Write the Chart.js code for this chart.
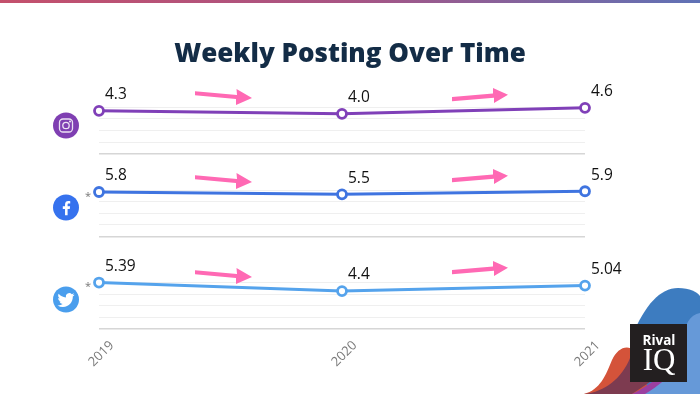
<!DOCTYPE html>
<html>
<head>
<meta charset="utf-8">
<title>Weekly Posting Over Time</title>
<script src="https://cdn.jsdelivr.net/npm/chart.js@4"></script>
<style>
  html, body { margin: 0; padding: 0; background: #fff; overflow: hidden; }
  #page { position: relative; width: 700px; height: 394px; }
  #page canvas, #page svg { position: absolute; left: 0; top: 0; }
</style>
</head>
<body>
<div id="page">
  <canvas id="postingChart" width="700" height="394"></canvas>
  <svg width="700" height="394" viewBox="0 0 700 394">
    <defs>
      <linearGradient id="topBar"><stop offset="0" stop-color="#c4506c"/><stop offset="0.5" stop-color="#a85484"/><stop offset="1" stop-color="#5f72b6"/></linearGradient>
      <g id="arrowDown"><path d="M195 91.200 L237 95 L236.500 89 L252 98 L236 105 L236 99 L195 95.300 Z"/></g>
      <g id="arrowUp"><path d="M452 97 L493 93.500 L493 88 L508 94.700 L494 103 L494 97.700 L452 101.300 Z"/></g>
    </defs>
    <rect width="700" height="3" fill="url(#topBar)"/>

    <text x="350" y="62" font-family="Open Sans" font-weight="800" font-size="26" fill="#132c46" text-anchor="middle">Weekly Posting Over Time</text>

    <g fill="#ff69b4">
      <use href="#arrowDown"/><use href="#arrowUp"/>
      <use href="#arrowDown" y="84"/><use href="#arrowUp" y="81"/>
      <use href="#arrowDown" y="179"/><use href="#arrowUp" y="173"/>
    </g>

    <!-- platform icons -->
    <circle cx="66" cy="125.500" r="13" fill="#7f3fb2"/>
    <g fill="none" stroke="#fff" stroke-opacity="0.85" stroke-width="1.3">
      <rect x="59.500" y="119" width="13" height="13" rx="3.500"/>
      <circle cx="66" cy="125.500" r="3.200"/>
    </g>
    <circle cx="70" cy="121.500" r="0.900" fill="#fff"/>

    <circle cx="66" cy="207.500" r="13" fill="#3672ee"/>
    <path transform="translate(56.400 197.700) scale(0.8)" fill="#fff" d="M14 22v-8h2.700l.4-3.200H14V8.800c0-.9.3-1.600 1.600-1.600h1.700V4.300c-.3 0-1.300-.1-2.400-.1-2.400 0-4.100 1.500-4.100 4.200v2.400H8V14h2.800v8z"/>

    <circle cx="66" cy="299.500" r="13" fill="#4a9eed"/>
    <path transform="translate(57.500 291.500) scale(0.71)" fill="#fff" d="M23.953 4.570a10 10 0 01-2.825.775 4.958 4.958 0 002.163-2.723c-.951.555-2.005.959-3.127 1.184a4.920 4.920 0 00-8.384 4.482C7.690 8.095 4.067 6.130 1.640 3.162a4.822 4.822 0 00-.666 2.475c0 1.710.870 3.213 2.188 4.096a4.904 4.904 0 01-2.228-.616v.060a4.923 4.923 0 003.946 4.827 4.996 4.996 0 01-2.212.085 4.936 4.936 0 004.604 3.417 9.867 9.867 0 01-6.102 2.105c-.390 0-.779-.023-1.170-.067a13.995 13.995 0 007.557 2.209c9.053 0 13.998-7.496 13.998-13.985 0-.210 0-.420-.015-.630A9.935 9.935 0 0024 4.590z"/>

    <g font-family="Open Sans" font-size="11" fill="#777" text-anchor="middle">
      <text x="88" y="200">*</text>
      <text x="88" y="290">*</text>
    </g>

    <!-- logo hills -->
    <path d="M632 336 C645 305 660 288 678 288 C690 288 697 292 700 296 L700 394 L632 394 Z" fill="#3d7cc0"/>
    <path d="M584 394 C600 390 606 375 612 360 C617 349 626 344 634 350 L650 394 Z" fill="#d4533a"/>
    <path d="M584 394 C605 392 622 378 630 358 L650 382 L632 394 Z" fill="#7d3b50"/>
    <path d="M632 394 C640 390 650 384 660 376 L670 394 Z" fill="#9b3fa0"/>
    <path d="M700 313 C690 315 684 324 684 340 C684 360 672 378 645 394 L700 394 Z" fill="#6699d8"/>
    <rect x="630" y="324" width="57" height="58" fill="#231f20"/>
    <text x="659" y="344.500" font-family="Open Sans" font-weight="700" font-size="13.500" fill="#fff" text-anchor="middle">Rival</text>
    <text x="659" y="370" font-family="Liberation Serif" font-size="31" fill="#fff" text-anchor="middle">IQ</text>
  </svg>
</div>

<script>
const years = ['2019', '2020', '2021'];

const instagramPosts = [4.3, 4.0, 4.6];
const facebookPosts = [5.8, 5.5, 5.9];
const twitterPosts = [5.39, 4.4, 5.04];

const instagramLabels = ['4.3', '4.0', '4.6'];
const facebookLabels = ['5.8', '5.5', '5.9'];
const twitterLabels = ['5.39', '4.4', '5.04'];

function lineSet(data, valueLabels, color, axis) {
  return {
    data,
    valueLabels,
    yAxisID: axis,
    borderColor: color,
    borderWidth: 3,
    pointRadius: 4.5,
    pointBorderWidth: 2.8,
    pointBackgroundColor: '#fff',
    pointBorderColor: color,
    tension: 0,
    clip: false
  };
}

function valueAxis(max, step, weight) {
  return {
    type: 'linear',
    stack: 'platforms',
    stackWeight: weight,
    min: 0,
    max,
    ticks: { display: false, stepSize: step },
    border: { display: false },
    grid: {
      drawTicks: false,
      lineWidth: (ctx) => (ctx.tick.value === 0 ? 1.5 : 1),
      color: (ctx) => (ctx.tick.value === 0 ? '#d6d6d6' : '#efefef')
    }
  };
}

function gapAxis(weight) {
  return {
    type: 'linear',
    stack: 'platforms',
    stackWeight: weight,
    ticks: { display: false },
    border: { display: false },
    grid: { display: false }
  };
}

const valueLabelPlugin = {
  id: 'valueLabels',
  afterDatasetsDraw(chart) {
    const { ctx } = chart;
    ctx.save();
    ctx.font = '15.5px "Open Sans"';
    ctx.fillStyle = '#111';
    ctx.textAlign = 'left';
    ctx.textBaseline = 'middle';
    chart.data.datasets.forEach((set, i) => {
      chart.getDatasetMeta(i).data.forEach((pt, j) => {
        ctx.fillText(set.valueLabels[j], pt.x + 6, pt.y - 16);
      });
    });
    ctx.restore();
  }
};

new Chart(document.querySelector('#postingChart'), {
  type: 'line',
  data: {
    labels: years,
    datasets: [
      lineSet(instagramPosts, instagramLabels, '#8040b8', 'yInstagram'),
      lineSet(facebookPosts, facebookLabels, '#3f74e0', 'yFacebook'),
      lineSet(twitterPosts, twitterLabels, '#55a3ec', 'yTwitter')
    ]
  },
  options: {
    responsive: false,
    animation: false,
    layout: { padding: { left: 91, right: 115, top: 107, bottom: 23 } },
    scales: {
      x: {
        offset: false,
        grid: { display: false },
        border: { display: false },
        ticks: {
          color: '#7a7a7a',
          font: { family: 'Open Sans', size: 13 },
          maxRotation: 45,
          minRotation: 45,
          padding: 1,
          labelOffset: 13
        }
      },
      yTwitter: valueAxis(5.4, 1.35, 46.5),
      yGapLower: gapAxis(46),
      yFacebook: valueAxis(6, 1.5, 46),
      yGapUpper: gapAxis(36.5),
      yInstagram: valueAxis(4.68, 1.17, 47)
    },
    plugins: {
      legend: { display: false },
      tooltip: { enabled: false }
    }
  },
  plugins: [valueLabelPlugin]
});
</script>
</body>
</html>
